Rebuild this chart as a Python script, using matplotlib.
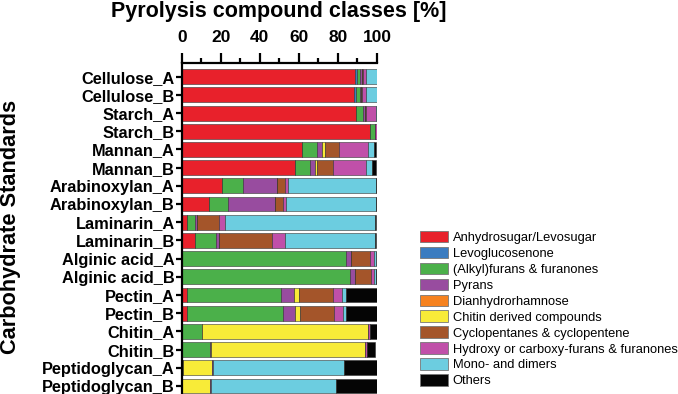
import numpy as np
import matplotlib.pyplot as plt
from matplotlib.patches import Patch

plt.rcParams['font.family'] = ['Liberation Sans', 'DejaVu Sans']

samples = ['Cellulose_A', 'Cellulose_B', 'Starch_A', 'Starch_B', 'Mannan_A', 'Mannan_B',
           'Arabinoxylan_A', 'Arabinoxylan_B', 'Laminarin_A', 'Laminarin_B',
           'Alginic acid_A', 'Alginic acid_B', 'Pectin_A', 'Pectin_B',
           'Chitin_A', 'Chitin_B', 'Peptidoglycan_A', 'Peptidoglycan_B']

classes = ['Anhydrosugar/Levosugar', 'Levoglucosenone', '(Alkyl)furans & furanones',
           'Pyrans', 'Dianhydrorhamnose', 'Chitin derived compounds',
           'Cyclopentanes & cyclopentene', 'Hydroxy or carboxy-furans & furanones',
           'Mono- and dimers', 'Others']

colors = ['#e8212b', '#3b7cc0', '#4bb04a', '#984c9f', '#f6821f', '#f8eb38',
          '#a4552a', '#c050a9', '#6ccde0', '#050505']

# percent values per sample, in class order
anhydro   = [88.9, 88.2, 89.1, 96.3, 61.8, 57.9, 20.4, 14.1, 2.9, 7.0, 0, 0, 2.6, 2.6, 0, 0, 0, 0]
levoglu   = [0.7, 1.2, 0.3, 0, 0, 0, 0, 0, 0, 0, 0, 0, 0, 0, 0, 0, 0, 0]
furans    = [1.9, 1.7, 3.5, 2.5, 7.5, 7.7, 11.1, 9.7, 3.9, 10.6, 84.0, 86.2, 48.5, 49.4, 10.6, 14.5, 0.5, 0]
pyrans    = [0.8, 0.7, 0.8, 0, 2.7, 2.5, 17.5, 24.0, 1.2, 1.7, 2.9, 2.4, 6.3, 6.0, 0, 0.6, 0, 0]
dianhydro = [0, 0, 0, 0, 0, 0, 0, 0, 0, 0, 0, 0, 0, 0, 0, 0, 0, 0]
chitin    = [0, 0, 0, 0, 1.4, 1.4, 0, 0, 0, 0, 0, 0, 2.6, 2.6, 84.7, 78.9, 14.8, 14.5]
cyclo     = [0.5, 0.5, 0.6, 0, 7.2, 7.8, 4.1, 4.3, 11.2, 27.0, 9.7, 8.5, 17.5, 17.5, 0, 0, 0, 0]
hydroxy   = [1.7, 2.2, 5.2, 1.2, 14.8, 17.0, 1.5, 1.5, 3.2, 6.8, 1.7, 1.4, 4.8, 4.3, 1.1, 1.1, 0.8, 0.6]
mono      = [5.5, 5.5, 0.5, 0, 2.9, 3.4, 45.1, 46.1, 76.7, 46.0, 1.0, 1.2, 2.0, 1.7, 0, 0, 66.9, 63.8]
others    = [0, 0, 0, 0, 1.4, 2.0, 0.3, 0.3, 0.5, 0.5, 0.4, 0.3, 15.7, 16.0, 3.6, 3.9, 17.0, 21.1]

series = [anhydro, levoglu, furans, pyrans, dianhydro, chitin, cyclo, hydroxy, mono, others]

fig = plt.figure(figsize=(6.78, 3.94), dpi=100)
ax = fig.add_axes([0.268, -0.005, 0.288, 0.845])

y = np.arange(len(samples))
left = np.zeros(len(samples))
for vals, c in zip(series, colors):
    vals = np.array(vals)
    ax.barh(y, vals, left=left, height=0.82, color=c, edgecolor='#333333', linewidth=0.4)
    left += vals

ax.set_ylim(len(samples) - 0.45, -0.75)
ax.set_xlim(0, 100)
ax.xaxis.tick_top()
ax.set_xticks([0, 20, 40, 60, 80, 100])
ax.set_xticks(np.arange(10, 100, 20), minor=True)
ax.set_yticks(y)
ax.set_yticklabels(samples, fontweight='bold', fontsize=11.8)
for lab in ax.get_xticklabels():
    lab.set_fontweight('bold')
    lab.set_fontsize(12.5)
ax.tick_params(axis='x', which='major', length=7, width=1.6, pad=6)
ax.tick_params(axis='x', which='minor', length=3.5, width=1.6)
ax.tick_params(axis='y', length=4, width=1.6, pad=1)
for s in ['bottom', 'right']:
    ax.spines[s].set_visible(False)
for s in ['top', 'left']:
    ax.spines[s].set_linewidth(1.6)

fig.text(0.411, 1 - 17 / 394, 'Pyrolysis compound classes [%]', fontsize=15.5,
         fontweight='bold', ha='center', va='baseline')
fig.text(0.015, 0.424, 'Carbohydrate Standards', rotation=90, fontsize=15.7,
         fontweight='bold', ha='center', va='center')

handles = [Patch(facecolor=c, edgecolor='#777777', linewidth=0.6) for c in colors]
fig.legend(handles, classes, loc='upper left', bbox_to_anchor=(0.619, 0.414),
           frameon=False, fontsize=9.3, handlelength=2.2, handleheight=1.0,
           handletextpad=0.35, labelspacing=0.21, borderaxespad=0, borderpad=0)

fig.savefig('out.png', dpi=100)
